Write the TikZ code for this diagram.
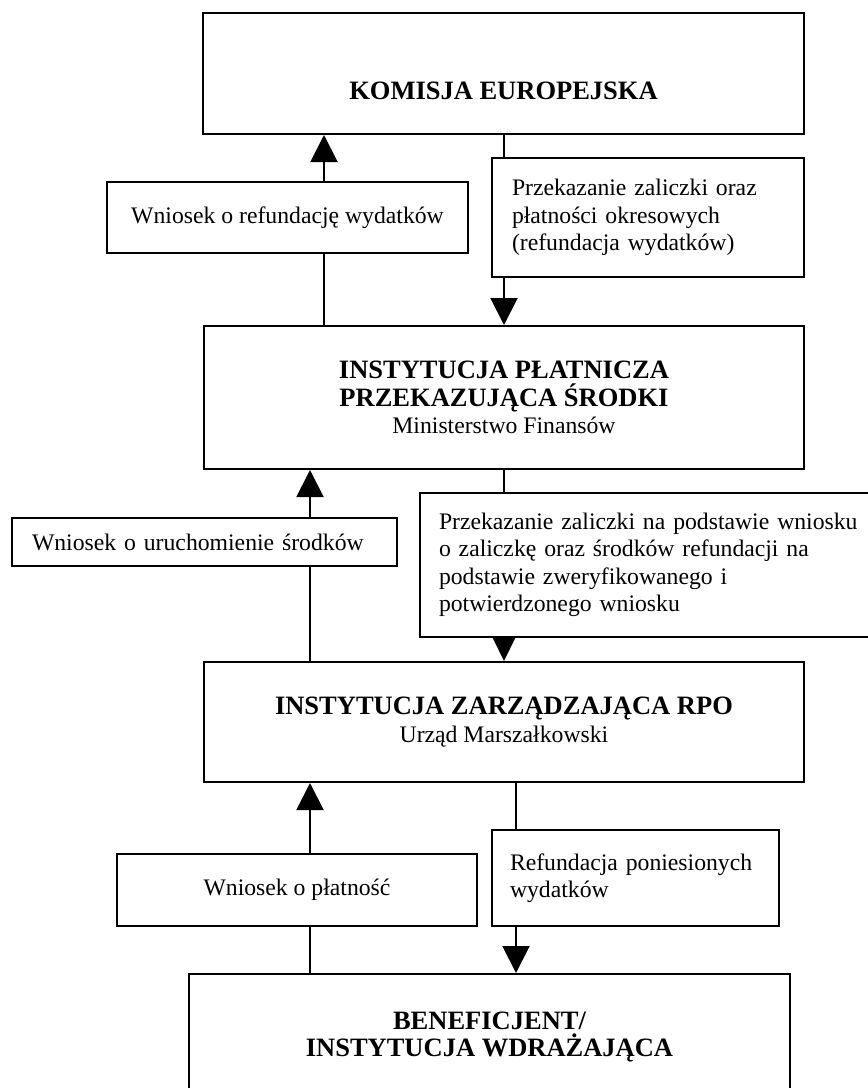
\documentclass[tikz,border=0pt]{standalone}
\usepackage{fontspec}
\setmainfont{Liberation Serif}
\usetikzlibrary{arrows.meta}
\newcommand{\headfont}{\fontsize{26.5}{27.5}\selectfont\bfseries}
\newcommand{\bodyfont}{\fontsize{23.7}{27.5}\selectfont}

\begin{document}
\begin{tikzpicture}[x=1pt, y=1pt, yscale=-1,
  box/.style={draw, line width=2pt, inner sep=0pt, align=center, font=\bodyfont},
  notebox/.style={draw, line width=2pt, inner xsep=20pt, inner ysep=0pt, align=left, font=\bodyfont},
  flowline/.style={line width=2pt},
  toarrow/.style={flowline, -{Triangle[width=27pt, length=27pt]}}]
\clip (0, 0) rectangle (868, 1088);
% instytucje
\node (ke) [box, font=\headfont, minimum width=601pt, minimum height=121pt] at (503.5, 73.5) {\raisebox{-17pt}[\height][\depth]{KOMISJA EUROPEJSKA}};
\node (pp) [box, minimum width=600pt, minimum height=143pt] at (504, 397.5) {{\headfont INSTYTUCJA PŁATNICZA}\\{\headfont PRZEKAZUJĄCA ŚRODKI}\\Ministerstwo Finansów};
\node (iz) [box, minimum width=600pt, minimum height=120pt] at (504, 722) {{\headfont INSTYTUCJA ZARZĄDZAJĄCA RPO}\\Urząd Marszałkowski};
\node (ben) [box, font=\headfont, minimum width=601pt, minimum height=126pt] at (489.5, 1037) {BENEFICJENT/\\INSTYTUCJA WDRAŻAJĄCA};
% wnioski (w gore)
\node (reqA) [box, minimum width=361pt, minimum height=71pt] at (287.5, 217.5) {Wniosek o refundację wydatków};
\node (reqB) [notebox, text width=345pt, minimum height=48pt] at (204.5, 542) {Wniosek o uruchomienie środków};
\node (reqC) [box, minimum width=360pt, minimum height=72pt] at (297, 890) {Wniosek o płatność};
% przekazanie srodkow (w dol)
\node (payA) [notebox, text width=272pt, minimum height=119pt] at (648, 217.5) {Przekazanie zaliczki oraz\\płatności okresowych\\(refundacja wydatków)};
\node (payB) [notebox, inner xsep=19pt, text width=432pt, minimum height=144pt] at (655, 565) {Przekazanie zaliczki na podstawie wniosku\\o zaliczkę oraz środków refundacji na\\podstawie zweryfikowanego i\\potwierdzonego wniosku};
\node (payC) [notebox, inner xsep=18pt, text width=251pt, minimum height=96pt] at (635.5, 878) {Refundacja poniesionych\\wydatków};
% kolumny strzalek
\coordinate (colA) at (324, 0);
\coordinate (colB) at (504, 0);
\coordinate (colC) at (310, 0);
\coordinate (colD) at (516, 0);
% polaczenia
\draw [flowline] (pp.north -| colA) -- (reqA.south -| colA);
\draw [toarrow] (reqA.north -| colA) -- (ke.south -| colA);
\draw [flowline] (ke.south -| colB) -- (payA.north -| colB);
\draw [toarrow] (payA.south -| colB) -- (pp.north -| colB);
\draw [flowline] (iz.north -| colC) -- (reqB.south -| colC);
\draw [toarrow] (reqB.north -| colC) -- (pp.south -| colC);
\draw [flowline] (pp.south -| colB) -- (payB.north -| colB);
\draw [toarrow, -{Triangle[width=23pt, length=24pt]}] (payB.south -| colB) -- (iz.north -| colB);
\draw [flowline] (ben.north -| colC) -- (reqC.south -| colC);
\draw [toarrow] (reqC.north -| colC) -- (iz.south -| colC);
\draw [flowline] (iz.south -| colD) -- (payC.north -| colD);
\draw [toarrow] (payC.south -| colD) -- (ben.north -| colD);
\end{tikzpicture}
\end{document}
